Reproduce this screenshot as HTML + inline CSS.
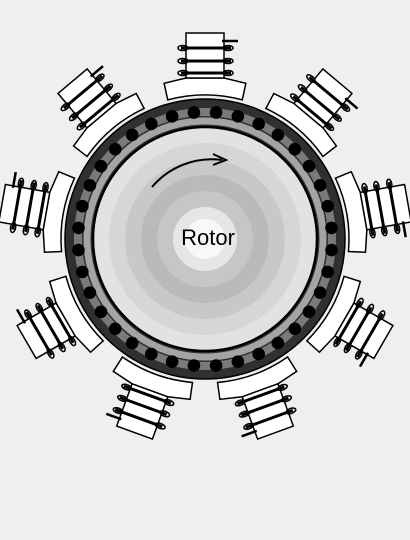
<!DOCTYPE html>
<html><head><meta charset="utf-8"><style>
html,body{margin:0;padding:0;background:#efefef;width:410px;height:540px;overflow:hidden}
svg{display:block}
</style></head><body>
<svg id="motor" width="410" height="540" viewBox="0 0 410 540" xmlns="http://www.w3.org/2000/svg">
<g id="poles"></g>
<g id="stator">
<circle cx="205" cy="239" r="140" fill="#303030" stroke="#000" stroke-width="1.5"/>
<circle cx="205" cy="239" r="127" fill="none" stroke="#7a7a7a" stroke-width="8"/>
<circle cx="205" cy="239" r="118" fill="none" stroke="#a4a4a4" stroke-width="7"/>
</g>
<g id="dots"></g>
<g id="rotor"></g>
<path d="M152,187 A78,78 0 0 1 222,160" fill="none" stroke="#000" stroke-width="2"/>
<path d="M213,154 L226,160 L213,165" fill="none" stroke="#000" stroke-width="2"/>
<text x="208" y="245" text-anchor="middle" font-family="Liberation Sans, sans-serif" font-size="22" fill="#000">Rotor</text>
</svg>
<script>
const poleAngles = [90, 50, 10, -30, -70, -110, -150, 170, 130];
const dotCount = 36;
const rotorRingRadii = [112, 96, 80, 64, 48, 32, 20];
const rotorRingShades = ['#e2e2e2', '#d6d6d6', '#c8c8c8', '#bababa', '#c6c6c6', '#e6e6e6', '#f8f8f8'];
const cx = 205, cy = 239;
const NS = 'http://www.w3.org/2000/svg';
function mk(tag, attrs, parent){
  const e = document.createElementNS(NS, tag);
  for (const k in attrs) e.setAttribute(k, attrs[k]);
  parent.appendChild(e);
  return e;
}
const poles = document.getElementById('poles');
poleAngles.forEach((a, i) => {
  const g = mk('g', {transform: `rotate(${90 - a} ${cx} ${cy})`}, poles);
  
  
  const r1 = 144, r2 = 161, h = 15 * Math.PI / 180;
  const p = (r, t) => [cx + r * Math.sin(t), cy - r * Math.cos(t)];
  const a1 = p(r1, -h), a2 = p(r1, h), b1 = p(r2, -h * 0.98), b2 = p(r2, h * 0.98);
  const shoe = mk('path', {d: `M${a1} A${r1},${r1} 0 0 1 ${a2} L${b2} L${cx + 19},${cy - r2} L${cx - 19},${cy - r2} L${b1} Z`, fill: '#fff', stroke: '#000', 'stroke-width': 1.5}, g);
  
  
  const tooth = mk('rect', {x: cx - 19, y: cy - 206, width: 38, height: 45, fill: '#fff', stroke: '#000', 'stroke-width': 1.5}, g);
  
  
  [191, 178, 166].forEach(r => {
    const y = cy - r;
    const coil = mk('g', {}, g);
    
    
    mk('line', {x1: cx - 24, y1: y, x2: cx + 26, y2: y, stroke: '#000', 'stroke-width': 3}, coil);
    mk('ellipse', {cx: cx - 22, cy: y, rx: 5, ry: 2.5, fill: 'none', stroke: '#000', 'stroke-width': 1.5}, coil);
    mk('ellipse', {cx: cx + 23, cy: y, rx: 5, ry: 2.5, fill: 'none', stroke: '#000', 'stroke-width': 1.5}, coil);
  });
  mk('line', {x1: cx + 17, y1: cy - 198, x2: cx + 33, y2: cy - 198, stroke: '#000', 'stroke-width': 2.5}, g);
});
const dots = document.getElementById('dots');
for (let i = 0; i < dotCount; i++) {
  const t = (5 + i * 360 / dotCount) * Math.PI / 180;
  const d = mk('circle', {cx: cx + 127 * Math.sin(t), cy: cy - 127 * Math.cos(t), r: 6.3, fill: '#000'}, dots);
  
  
}
const rotor = document.getElementById('rotor');
rotorRingRadii.forEach((r, i) => {
  const c = mk('circle', {cx: cx, cy: cy, r: r, fill: rotorRingShades[i]}, rotor);
  
  
});
const edge = mk('circle', {cx: cx, cy: cy, r: 112, fill: 'none', stroke: '#000', 'stroke-width': 2.5}, rotor);


</script>
</body></html>
